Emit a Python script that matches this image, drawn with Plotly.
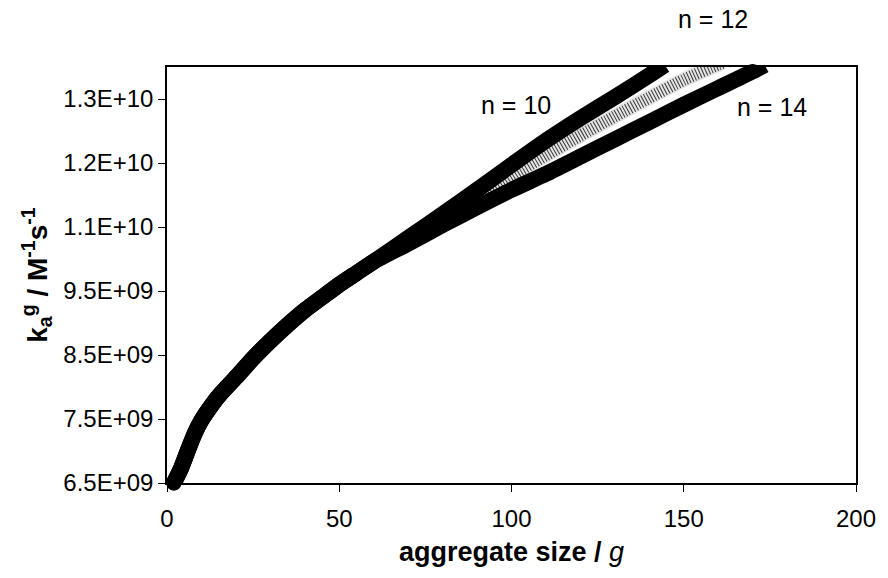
import numpy as np
import plotly.graph_objects as go

# ---- data (k values in units of 1e9 M^-1 s^-1) ----
g_common = [2, 4, 6, 8, 10, 13, 16, 20, 25, 30, 35, 40, 45, 50, 55, 60]
k_common = [6.5, 6.72, 7.0, 7.27, 7.48, 7.72, 7.92, 8.15, 8.45, 8.72, 8.97, 9.2, 9.4, 9.6, 9.78, 9.96]

g_n10 = g_common + [70, 80, 90, 100, 110, 120, 130, 140, 144.5]
k_n10 = k_common + [10.33, 10.7, 11.08, 11.47, 11.85, 12.2, 12.53, 12.87, 13.03]

g_n12 = g_common + [70, 80, 90, 100, 110, 120, 130, 140, 150, 160, 161.5]
k_n12 = k_common + [10.29, 10.63, 10.96, 11.3, 11.62, 11.93, 12.23, 12.52, 12.8, 13.04, 13.07]

g_n14 = g_common + [70, 80, 90, 100, 110, 120, 130, 140, 150, 160, 170, 173.5]
k_n14 = k_common + [10.24, 10.53, 10.81, 11.08, 11.33, 11.6, 11.87, 12.14, 12.41, 12.67, 12.93, 13.03]

y_tickvals = [6.5, 7.5, 8.5, 9.5, 10.5, 11.5, 12.5]
y_ticktext = ["6.5E+09", "7.5E+09", "8.5E+09", "9.5E+09", "1.1E+10", "1.2E+10", "1.3E+10"]
x_tickvals = [0, 50, 100, 150, 200]

labels = ["n = 10", "n = 12", "n = 14"]
label_g = [101.4, 158.6, 175.7]
label_k = [12.4, 13.75, 12.38]

X_RANGE = [0, 200]
Y_RANGE = [6.5, 13.0]
SCALE = 1e9
FONT = "Arial, Liberation Sans, Helvetica, sans-serif"

def ky(vals):
    return np.array(vals) * SCALE

fig = go.Figure()

# n = 12 (grey open-marker look) drawn first, underneath
fig.add_trace(go.Scatter(x=g_n12, y=ky(k_n12), mode="lines",
                         line=dict(color="#e4e4e4", width=15, shape="spline", smoothing=0.6),
                         hoverinfo="skip", showlegend=False))
fig.add_trace(go.Scatter(x=g_n12, y=ky(k_n12), mode="lines",
                         line=dict(color="#3a3a3a", width=12, shape="spline", smoothing=0.6,
                                   dash="1px,2px"),
                         name="n = 12", showlegend=False))

# n = 10
fig.add_trace(go.Scatter(x=g_n10, y=ky(k_n10), mode="lines+markers", cliponaxis=False,
                         line=dict(color="black", width=16, shape="spline", smoothing=0.6),
                         marker=dict(color="black", size=15, symbol="circle"),
                         name="n = 10", showlegend=False))
# n = 14
fig.add_trace(go.Scatter(x=g_n14, y=ky(k_n14), mode="lines+markers", cliponaxis=False,
                         line=dict(color="black", width=16, shape="spline", smoothing=0.6),
                         marker=dict(color="black", size=15, symbol="circle"),
                         name="n = 14", showlegend=False))

# series labels (paper coordinates so the label above the frame stays visible)
for txt, gx, kv in zip(labels, label_g, label_k):
    px = (gx - X_RANGE[0]) / (X_RANGE[1] - X_RANGE[0])
    py = (kv - Y_RANGE[0]) / (Y_RANGE[1] - Y_RANGE[0])
    fig.add_annotation(x=px, y=py, xref="paper", yref="paper", text=txt, showarrow=False,
                       font=dict(family=FONT, size=25, color="black"),
                       xanchor="center", yanchor="middle")

fig.update_xaxes(range=X_RANGE, tickvals=x_tickvals, ticks="outside", ticklen=7,
                 tickcolor="black", linecolor="black", linewidth=1.5, mirror=True,
                 showgrid=False, zeroline=False, ticklabelstandoff=6,
                 tickfont=dict(family=FONT, size=24, color="black"),
                 title=dict(text="<b>aggregate size / </b><i>g</i>",
                            font=dict(family=FONT, size=27, color="black"), standoff=12))
fig.update_yaxes(range=ky(Y_RANGE), tickvals=ky(y_tickvals), ticktext=y_ticktext,
                 ticks="outside", ticklen=7, tickcolor="black", linecolor="black",
                 linewidth=1.5, mirror=True, showgrid=False, zeroline=False,
                 tickfont=dict(family=FONT, size=24, color="black"),
                 title=dict(text="<b>k<sub>a</sub><sup>g</sup> / M<sup>-1</sup>s<sup>-1</sup></b>",
                            font=dict(family=FONT, size=28, color="black"), standoff=8))

fig.update_layout(width=888, height=578, paper_bgcolor="white", plot_bgcolor="white",
                  margin=dict(l=167, r=21, t=67, b=95), showlegend=False)

fig.write_html("out.html")
